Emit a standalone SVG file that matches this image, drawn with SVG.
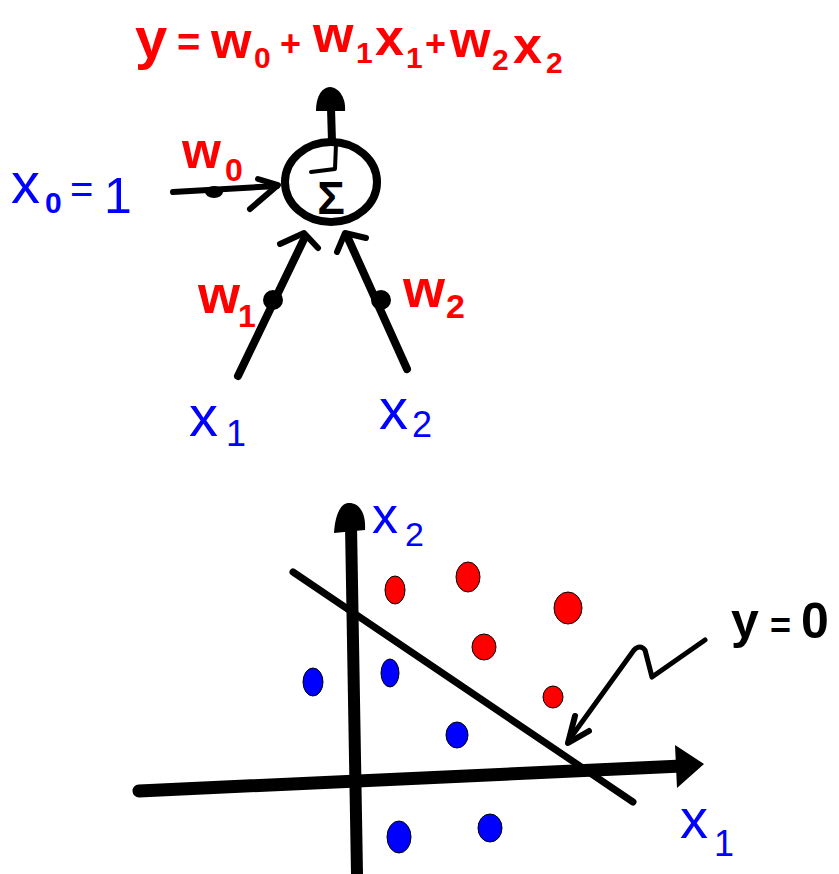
<svg xmlns="http://www.w3.org/2000/svg" width="839" height="874" viewBox="0 0 839 874">
<style>
.ink{fill:none;stroke:#000;stroke-linecap:round;stroke-linejoin:round}
.red{fill:#ff0000;font-family:"Liberation Sans",Arial,sans-serif;font-weight:bold}
.blue{fill:#0000ff;font-family:"Liberation Sans",Arial,sans-serif}
.blk{fill:#000;font-family:"Liberation Sans",Arial,sans-serif;font-weight:bold}
.rd{fill:#ff0000;stroke:#000;stroke-width:1}
.bd{fill:#0000ff;stroke:#000;stroke-width:1}
</style>
<rect width="839" height="874" fill="#fff"/>

<g id="equation">
<text class="red" font-size="52"><tspan x="135" y="58" font-size="58">y</tspan><tspan x="177" y="56" font-size="40">=</tspan><tspan x="211" y="58">w</tspan><tspan x="254" y="68" font-size="30">0</tspan><tspan x="280" y="56" font-size="36">+</tspan><tspan x="313" y="52">w</tspan><tspan x="356" y="63" font-size="30">1</tspan><tspan x="375" y="55">x</tspan><tspan x="406" y="68" font-size="30">1</tspan><tspan x="425" y="56" font-size="36">+</tspan><tspan x="450" y="57">w</tspan><tspan x="492" y="70" font-size="30">2</tspan><tspan x="513" y="63">x</tspan><tspan x="546" y="73" font-size="30">2</tspan></text>
</g>

<g id="sum-node">
<ellipse cx="331" cy="182" rx="46" ry="40" class="ink" stroke-width="8"/>
<path class="ink" stroke-width="4" d="M336,144 L335,169 L311,172"/>
<text class="blk" font-size="46" x="331" y="214" text-anchor="middle">Σ</text>
</g>

<g id="input-x0">
<text class="blue" font-size="58"><tspan x="11" y="203">x</tspan><tspan x="45" y="213" font-size="30" font-weight="bold">0</tspan><tspan x="70" y="203" font-size="40">=</tspan><tspan x="104" y="213" font-size="50">1</tspan></text>
</g>
<g id="weight-w0">
<text class="red" font-size="50"><tspan x="182" y="168">w</tspan><tspan x="225" y="181" font-size="32">0</tspan></text>
</g>
<g id="input-x1">
<text class="blue" font-size="58"><tspan x="189" y="436">x</tspan><tspan x="226" y="446" font-size="36">1</tspan></text>
</g>
<g id="weight-w1">
<text class="red" font-size="54"><tspan x="198" y="313">w</tspan><tspan x="238" y="327" font-size="32">1</tspan></text>
</g>
<g id="input-x2">
<text class="blue" font-size="58"><tspan x="379" y="429">x</tspan><tspan x="412" y="437" font-size="36">2</tspan></text>
</g>
<g id="weight-w2">
<text class="red" font-size="54"><tspan x="403" y="307">w</tspan><tspan x="446" y="318" font-size="34">2</tspan></text>
</g>

<g id="connectors">
<!-- output arrow -->
<line class="ink" stroke-width="8" x1="331" y1="108" x2="332" y2="142"/>
<path d="M330,87 C340,88 346,99 345,111 L316,111 C316,99 320,88 330,87 Z" fill="#000"/>
<!-- x0 input -->
<line class="ink" stroke-width="6" x1="173" y1="192" x2="277" y2="186"/>
<ellipse cx="214" cy="192" rx="9" ry="6" fill="#000"/>
<path class="ink" stroke-width="6" d="M258,179 L278,185 L250,209"/>
<!-- x1 input -->
<line class="ink" stroke-width="8" x1="238" y1="376" x2="305" y2="237"/>
<circle cx="273" cy="300" r="10" fill="#000"/>
<path class="ink" stroke-width="6" d="M280,244 L304,233 L318,248"/>
<!-- x2 input -->
<line class="ink" stroke-width="8" x1="407" y1="369" x2="347" y2="236"/>
<circle cx="381" cy="300" r="10" fill="#000"/>
<path class="ink" stroke-width="6" d="M337,252 L345,233 L366,238"/>
</g>

<g id="plot">
<!-- vertical axis x2 -->
<line class="ink" stroke-width="12" x1="351" y1="525" x2="357" y2="874"/>
<path d="M349,503 C360,503 366,514 365,530 L334,533 C335,516 340,503 349,503 Z" fill="#000"/>
<!-- horizontal axis x1 -->
<line class="ink" stroke-width="13" x1="139" y1="791" x2="682" y2="766"/>
<polygon points="675,745 704,764 677,788" fill="#000"/>
<!-- decision line -->
<line class="ink" stroke-width="7" x1="293" y1="572" x2="633" y2="802"/>
<!-- pointer -->
<path class="ink" stroke-width="5" d="M705,640 L652,677 L645,650 Q640,644 634,650 L569,740"/>
<path class="ink" stroke-width="6" d="M575,716 L568,743 L589,731"/>
<!-- red points -->
<ellipse class="rd" cx="395" cy="590" rx="10" ry="14"/>
<ellipse class="rd" cx="468" cy="577" rx="12" ry="15"/>
<ellipse class="rd" cx="568" cy="608" rx="14" ry="16"/>
<ellipse class="rd" cx="484" cy="647" rx="12" ry="13"/>
<ellipse class="rd" cx="553" cy="697" rx="10" ry="11"/>
<!-- blue points -->
<ellipse class="bd" cx="313" cy="682" rx="10" ry="14"/>
<ellipse class="bd" cx="390" cy="673" rx="9" ry="14"/>
<ellipse class="bd" cx="457" cy="735" rx="11" ry="13"/>
<ellipse class="bd" cx="399" cy="837" rx="12" ry="16"/>
<ellipse class="bd" cx="490" cy="828" rx="12" ry="14"/>
</g>

<g id="label-x2">
<text class="blue" font-size="52"><tspan x="372" y="533">x</tspan><tspan x="405" y="546" font-size="34">2</tspan></text>
</g>
<g id="label-x1">
<text class="blue" font-size="56"><tspan x="680" y="838">x</tspan><tspan x="714" y="856" font-size="36">1</tspan></text>
</g>
<g id="label-y0">
<text class="blk" font-size="50"><tspan x="731" y="638">y</tspan><tspan x="770" y="638" font-size="36">=</tspan><tspan x="801" y="638">0</tspan></text>
</g>
</svg>
